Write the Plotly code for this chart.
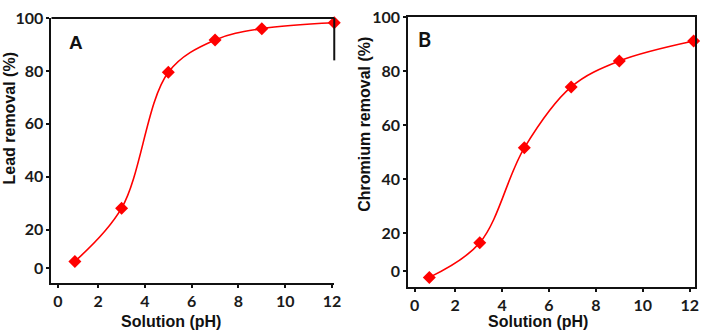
import plotly.graph_objects as go

# ---- data ----
ph_lead = [1.0, 3.0, 5.0, 7.0, 9.0, 12.1]
lead_removal = [8.0, 28.1, 79.5, 91.7, 96.0, 98.2]

ph_cr = [0.9, 3.05, 4.95, 6.95, 9.0, 12.17]
cr_removal = [3.6, 16.4, 51.6, 74.2, 83.8, 91.2]

x_tickvals = [0.27, 2, 4, 6, 8, 10, 12]
x_ticktext = ["0", "2", "4", "6", "8", "10", "12"]
yA_tickvals = [5.5, 20, 40, 60, 80, 100]
yB_tickvals = [6.0, 20, 40, 60, 80, 100]
y_ticktext = ["0", "20", "40", "60", "80", "100"]

RED = "#ff0000"
TICKFONT = dict(family="Lato", size=16, color="#1a1a1a", weight="bold")
TITLEFONT = dict(family="Liberation Sans", size=16, color="#111111", weight="bold")

fig = go.Figure()
fig.add_trace(go.Scatter(
    x=ph_lead, y=lead_removal, mode="lines+markers",
    line=dict(color=RED, width=1.6, shape="spline", smoothing=1.0),
    marker=dict(symbol="diamond", size=10, color=RED),
    xaxis="x", yaxis="y", cliponaxis=False, showlegend=False))
fig.add_trace(go.Scatter(
    x=ph_cr, y=cr_removal, mode="lines+markers",
    line=dict(color=RED, width=1.6, shape="spline", smoothing=1.0),
    marker=dict(symbol="diamond", size=10, color=RED),
    xaxis="x2", yaxis="y2", cliponaxis=False, showlegend=False))

axis_common = dict(showgrid=False, zeroline=False, showline=True,
                   linecolor="#111111", linewidth=2, ticks="outside",
                   ticklen=3, tickwidth=1.5, tickcolor="#111111",
                   tickfont=TICKFONT, ticklabeloverflow="allow")

fig.update_layout(
    width=707, height=332,
    margin=dict(l=0, r=0, t=0, b=0),
    paper_bgcolor="white", plot_bgcolor="white",
    xaxis=dict(domain=[52/707, 337.6/707], range=[0, 12.1], anchor="y",
               tickvals=x_tickvals, ticktext=x_ticktext, **axis_common),
    yaxis=dict(domain=[51/332, 323.7/332], range=[0, 100], anchor="x",
               tickvals=yA_tickvals, ticktext=y_ticktext, **axis_common),
    xaxis2=dict(domain=[412.3/707, 702/707], range=[0, 12.23], anchor="y2",
                tickvals=x_tickvals, ticktext=x_ticktext, mirror=True,
                **axis_common),
    yaxis2=dict(domain=[46.3/332, 324.5/332], range=[0, 100], anchor="x2",
                tickvals=yB_tickvals, ticktext=y_ticktext, mirror=True,
                **axis_common),
)

# Panel A frame: full top edge, short right edge
fig.add_shape(type="line", xref="x domain", yref="y domain",
              x0=0, x1=1, y0=1, y1=1, line=dict(color="#111111", width=2))
fig.add_shape(type="line", xref="x domain", yref="y domain",
              x0=1, x1=1, y0=1, y1=0.84, line=dict(color="#111111", width=2))

ann = [
    dict(text="A", x=77/707, y=1-33.5/332, font=dict(family="Liberation Sans", size=19, color="#111111", weight="bold")),
    dict(text="B", x=429/707, y=1-30/332, font=dict(family="Lato", size=20, color="#111111", weight="bold")),
    dict(text="Solution (pH)", x=173/707, y=1-321.5/332, font=TITLEFONT),
    dict(text="Solution (pH)", x=543.5/707, y=1-321.5/332, font=TITLEFONT),
    dict(text="Lead removal (%)", x=10/707, y=1-112/332, textangle=-90, font=TITLEFONT),
    dict(text="Chromium removal (%)", x=368/707, y=1-118/332, textangle=-90, font=TITLEFONT),
]
for a in ann:
    fig.add_annotation(xref="paper", yref="paper", showarrow=False,
                       xanchor="center", yanchor="middle", **a)

fig.write_html("out.html", config={"displayModeBar": False},
               post_script="document.body.style.margin='0';document.body.style.overflow='hidden';")
